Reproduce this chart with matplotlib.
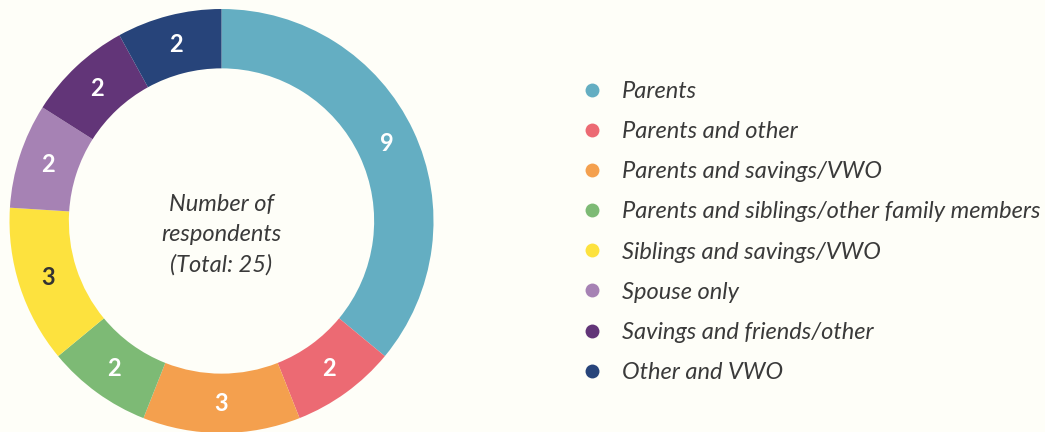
import matplotlib
matplotlib.use("Agg")
import matplotlib.pyplot as plt
from matplotlib.lines import Line2D
import numpy as np

categories = ["Parents", "Parents and other", "Parents and savings/VWO",
              "Parents and siblings/other family members", "Siblings and savings/VWO",
              "Spouse only", "Savings and friends/other", "Other and VWO"]
counts = [9, 2, 3, 2, 3, 2, 2, 2]
colors = ["#64aec2", "#ec6a73", "#f4a04e", "#7dba75", "#fde23e",
          "#a682b4", "#623578", "#27447a"]
label_colors = ["white", "white", "white", "white", "#333333", "white", "white", "white"]

bg = "#fefef8"
txt = "#3a3a3a"
plt.rcParams["font.family"] = ["Lato", "DejaVu Sans"]

fig = plt.figure(figsize=(10.45, 4.32), dpi=100, facecolor=bg)
ax = fig.add_axes([9.5 / 1045, -1.0 / 432, 424 / 1045, 424 / 432])
ax.set_facecolor(bg)

wedges, _ = ax.pie(counts, colors=colors, startangle=90, counterclock=False,
                   radius=1.0, wedgeprops=dict(width=0.28, edgecolor="none"))

# value labels in the middle of each ring segment
total = sum(counts)
ang0 = 90.0
for c, lc in zip(counts, label_colors):
    mid = np.deg2rad(ang0 - 360.0 * c / total / 2)
    ax.text(0.86 * np.cos(mid), 0.86 * np.sin(mid), str(c), ha="center", va="center",
            fontsize=17, fontweight="bold", color=lc)
    ang0 -= 360.0 * c / total

ax.text(0, -0.065, "Number of\nrespondents\n(Total: 25)", ha="center", va="center",
        fontsize=17, style="italic", color=txt, linespacing=1.5)
ax.set_xlim(-1, 1)
ax.set_ylim(-1, 1)
ax.set_aspect("equal")
ax.axis("off")

handles = [Line2D([], [], marker="o", linestyle="none", markersize=10,
                  markerfacecolor=c, markeredgecolor="none") for c in colors]
fig.legend(handles, categories, loc="center left", bbox_to_anchor=(559 / 1045, 0.463),
           frameon=False, prop=dict(size=17, style="italic"), labelcolor=txt,
           labelspacing=0.81, handletextpad=0.77, handlelength=1.0)

fig.savefig("out.png", dpi=100, facecolor=bg)
